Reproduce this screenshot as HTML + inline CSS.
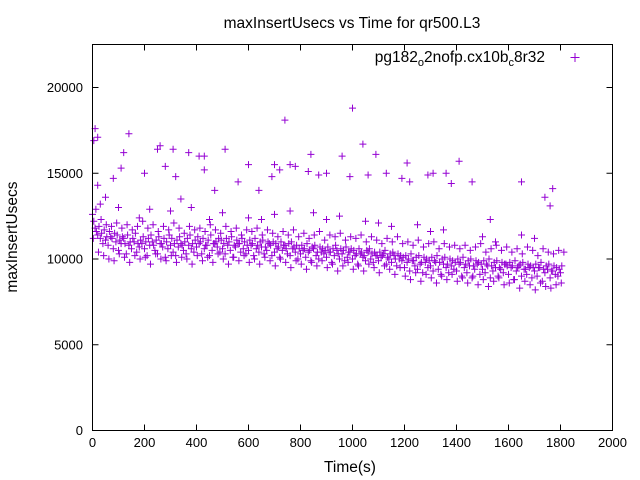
<!DOCTYPE html>
<html><head><meta charset="utf-8"><style>
body{margin:0;background:#fff;}
svg{display:block;font-family:"Liberation Sans",sans-serif;}
</style></head><body>
<svg id="chart" width="640" height="480" viewBox="0 0 640 480">
<rect x="0" y="0" width="640" height="480" fill="#fff"/>
<text x="352" y="28" text-anchor="middle" font-size="15.5">maxInsertUsecs vs Time for qr500.L3</text>
<text transform="translate(17,237) rotate(-90)" text-anchor="middle" font-size="15.5">maxInsertUsecs</text>
<text x="350" y="472" text-anchor="middle" font-size="15.5">Time(s)</text>
<g id="ticks"></g>
<g id="marks"></g>
<rect x="92.5" y="44.5" width="520" height="386" fill="none" stroke="#000" stroke-width="1"/>
<g>
<text x="545" y="62" text-anchor="end" font-size="15.5">pg182<tspan font-size="11" dy="4">o</tspan><tspan dy="-4">2nofp.cx10b</tspan><tspan font-size="11" dy="4">c</tspan><tspan dy="-4">8r32</tspan></text>
<path d="M570.5 57.5h9M575 53v9" stroke="#9400d3" stroke-width="1"/>
</g>
</svg>
<script>
const xTicks=[0,200,400,600,800,1000,1200,1400,1600,1800,2000];
const yTicks=[0,5000,10000,15000,20000];
const seriesA=[12600,11800,11400,11200,10900,11100,10800,11300,10600,11000,
10500,10900,11200,10300,10800,10600,11000,10400,10700,10900,
10600,10200,10800,11000,10500,10300,10900,10700,10100,10600,
10800,10400,10200,10700,10900,10500,10300,10800,10600,10400,
10700,10900,10300,10600,10800,10200,10500,10900,10700,10400,
10600,10300,10800,10500,10100,10700,10900,10400,10600,10300,
10500,10800,10200,10600,10400,10700,10300,10500,10900,10200,
10400,10600,10100,10500,10800,10300,10200,10600,10400,10000,
10300,10500,10100,10400,9900,10600,10200,10000,10400,10300,
10100,10400,9800,10200,10500,10000,10300,9900,10100,10400,
10000,10200,9700,10300,10100,9900,10400,10000,9800,10200,
9900,10100,10300,9700,10000,9800,10200,9600,10000,9900,
9500,9800,9300,9900,9600,9400,9700,9200,9800,9500,
9600,9300,9800,9400,9100,9700,9500,9200,9600,9400,
9300,9700,9000,9500,9200,9600,8900,9400,9700,9100,
9400,9200,9600,8900,9300,9500,9000,9400,9200,9700,
9100,9500,8800,9300,9600,9000,9400,9100,9500,8900,
9300,9000,9500,8700,9200,9400,8900,9300,9100,9000,9200];
const seriesB=[12200,11600,11900,11500,11700,11300,11600,11200,11500,11400,
11100,11300,10900,11400,11000,11200,11500,10900,11100,11300,
11000,11200,11400,10800,11100,11300,10900,11200,11000,11400,
11200,10900,11100,11300,10800,11000,11200,11400,10900,11100,
11300,11000,11200,10800,11100,11400,10900,11000,11200,11100,
10900,11200,11000,11300,10800,11100,10900,11200,11000,10800,
11100,10900,11200,10800,11000,11100,10700,11000,10800,11000,
10900,10700,11000,10800,10600,10900,11000,10700,10800,10600,
10800,10600,10900,10500,10700,10800,10400,10700,10600,10500,
10700,10400,10600,10800,10300,10600,10500,10700,10400,10600,
10500,10300,10600,10400,10200,10500,10600,10300,10400,10200,
10400,10200,10500,10100,10300,10400,10000,10300,10200,10100,
10200,10000,10300,9900,10100,10200,9800,10100,10000,9900,
10100,9900,10200,9800,10000,10100,9700,10000,9900,9800,
10000,9800,10100,9700,9900,10000,9600,9900,9800,9700,
9900,9700,10000,9600,9800,9900,9500,9800,9700,9600,
9800,9600,9900,9500,9700,9800,9400,9700,9600,9500,
9700,9500,9800,9400,9600,9700,9300,9600,9500,9400,9600];
const seriesC=[11200,10400,10200,10000,9900,10300,10100,9800,10200,10000,
10100,9700,10300,10000,9900,10200,9800,10100,10000,9700,
10200,9900,10100,9800,10300,10000,9700,10100,9900,10200,
9800,10000,9700,10100,9900,9600,10000,9800,9500,9900,
9700,9400,9800,9600,9900,9500,9700,9300,9600,9800,
9400,9600,9300,9700,9500,9200,9600,9400,9100,9500,
9000,8800,9200,8700,9100,8900,8600,9000,8800,9100,
8700,8900,8600,9000,8500,8800,8400,8700,8900,8500,
8600,8800,8300,8700,8500,8200,8600,8400,8300,8500,8600];
const seriesD=[12900,12300,12000,11900,12100,11800,12000,11700,11900,12200,
11800,12000,11600,11900,11700,12100,11800,11500,11900,11700,
11800,11600,12000,11700,11500,11900,11600,11800,11400,11700,
11600,11800,11400,11700,11500,11300,11600,11400,11700,11300,
11500,11200,11400,11600,11100,11400,11300,11500,11100,11300,
11200,11400,11000,11300,11100,10900,11200,11000,11300,10900,
11000,10800,11100,10700,10900,11000,10600,10900,10700,10800,
10600,10800,10500,10700,10900,10400,10600,10800,10500,10700,
10400,10600,10300,10700,10500,10200,10600,10400,10300,10500,10400];
const outlierTimes=[10,20,5,20,50,80,110,120,140,200,250,260,280,310,320,340,370,410,430,430,470,510,560,600,640,690,700,720,740,760,780,830,840,870,900,960,990,1000,1040,1060,1090,1130,1190,1210,1220,1290,1310,1360,1380,1410,1460,1530,1650,1740,1760,1770,100,300,500,700,900,1100,1300,1500,1700,30,180,220,380,450,600,760,950,1150,1350,1550,1650,1250,1050,850,650];
const outlierValues=[17600,17100,16900,14300,13600,14700,15300,16200,17300,15000,16400,16600,15400,16400,14800,13500,16200,16000,16000,15200,14000,16400,14500,15500,14000,14800,15500,15200,18100,15500,15400,15100,16100,14900,15000,16000,14800,18800,16700,14900,16100,15000,14700,15600,14500,14900,15000,15000,14400,15700,14500,12300,14500,13600,13100,14100,13000,12800,12700,12600,12300,12100,11600,11300,11200,13200,12400,12900,13000,12300,12400,12800,12500,11900,11700,11000,11400,12000,12200,12700,12300];

const X=t=>92.5+t*520/2000;
const Y=v=>430.5-v*343/20000;
const NS="http://www.w3.org/2000/svg";
const tg=document.getElementById('ticks');
const mg=document.getElementById('marks');
function el(tag,attrs,parent){const e=document.createElementNS(NS,tag);for(const k in attrs)e.setAttribute(k,attrs[k]);parent.appendChild(e);return e;}
xTicks.forEach(t=>{
  const x=X(t);
  const g=el('g',{},tg);
  
  
  el('path',{d:`M${x} 430.5v-6M${x} 44.5v6`,stroke:'#000'},g);
  const tx=el('text',{x:x,y:447,'text-anchor':'middle','font-size':'13'},g);tx.textContent=t;
});
yTicks.forEach(v=>{
  const y=Y(v);
  const g=el('g',{},tg);
  
  
  el('path',{d:`M92.5 ${y}h6M612.5 ${y}h-6`,stroke:'#000'},g);
  const tx=el('text',{x:83,y:y+4.5,'text-anchor':'end','font-size':'13'},g);tx.textContent=v;
});
function plus(t,v){
  const x=X(t),y=Y(v);
  const p=el('path',{d:`M${x-3.5} ${y}h7M${x} ${y-3.5}v7`,stroke:'#9400d3','stroke-width':'1'},mg);
  
  
}
seriesA.forEach((v,i)=>plus(i*10,v));
seriesB.forEach((v,i)=>plus(i*10+5,v));
seriesC.forEach((v,i)=>plus(i*20+3,v));
seriesD.forEach((v,i)=>plus(i*20+13,v));
outlierTimes.forEach((t,i)=>plus(t,outlierValues[i]));
</script>
</body></html>
